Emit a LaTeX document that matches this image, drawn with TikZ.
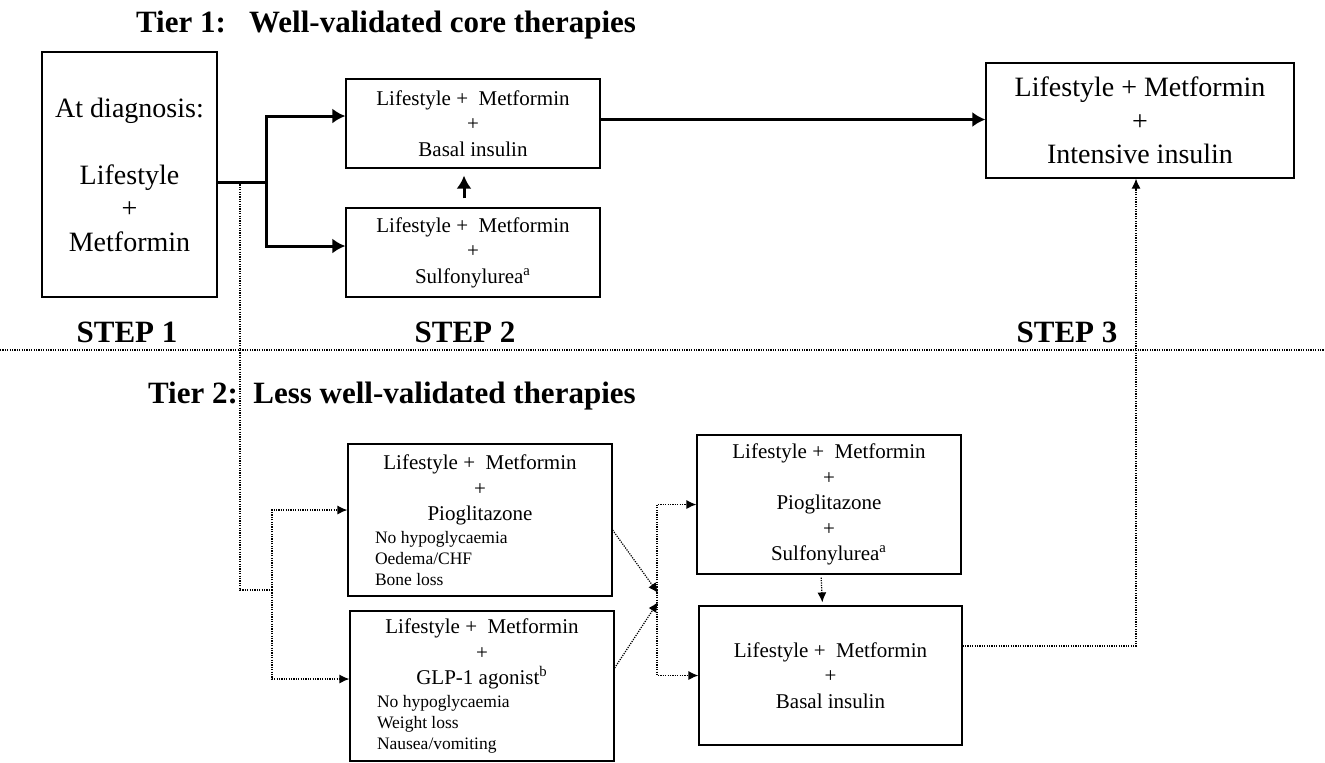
\documentclass[tikz,border=0pt]{standalone}
\usepackage{fontspec}
\setmainfont{Liberation Serif}
\usetikzlibrary{arrows.meta}

\newcommand{\sideitem}[1]{\makebox[105pt][l]{\fontsize{8.75}{10.5}\selectfont #1}}

\begin{document}
\begin{tikzpicture}[x=0.5pt,y=-0.5pt,
    box/.style={draw,line width=0.6pt,align=center,inner sep=2pt},
    bigtxt/.style={font=\fontsize{14}{16.75}\selectfont},
    midtxt/.style={font=\fontsize{10.5}{12.75}\selectfont},
    head/.style={font=\bfseries\fontsize{15.5}{18}\selectfont},
    thickarrow/.style={line width=1.5pt,-{Latex[length=6.5pt,width=7.5pt]}},
    dotline/.style={line width=0.6pt,dash pattern=on 0.6pt off 0.6pt},
    dotarrow/.style={dotline,-{Latex[length=5pt,width=4.5pt]}}]
    \useasboundingbox (0,0) rectangle (1325,762);

    % headings
    \node[head,anchor=base west] (tierone) at (129,32) {Tier 1:\ \ \ Well-validated core therapies};
    \node[head,anchor=base west] (tiertwo) at (141,403) {Tier 2:\ \ Less well-validated therapies};
    \node[head,anchor=base] (stepone) at (127,342) {STEP 1};
    \node[head,anchor=base] (steptwo) at (465,342) {STEP 2};
    \node[head,anchor=base] (stepthree) at (1067,342) {STEP 3};
    \draw[dotline] (0,350) -- (1325,350);

    % tier 1
    \node[box,bigtxt,minimum width=87.5pt,minimum height=122.5pt] (diag) at (129.5,174.5) {At diagnosis:\\[16.75pt]Lifestyle\\+\\Metformin};
    \node[box,midtxt,minimum width=127pt,minimum height=44.5pt] (basal) at (473,123.5) {Lifestyle +\ \ Metformin\\+\\Basal insulin};
    \node[box,midtxt,minimum width=127pt,minimum height=44.5pt] (sulf) at (473,252.5) {Lifestyle +\ \ Metformin\\+\\Sulfonylurea\textsuperscript{a}};
    \node[box,bigtxt,minimum width=154pt,minimum height=57.5pt] (intens) at (1140,120.5) {Lifestyle + Metformin\\+\\Intensive insulin};

    % tier 2
    \node[box,midtxt,minimum width=132pt,minimum height=76pt] (pio) at (480,520) {Lifestyle +\ \ Metformin\\+\\Pioglitazone\\[-1.5pt]\sideitem{No hypoglycaemia}\\[-2.25pt]\sideitem{Oedema/CHF}\\[-2.25pt]\sideitem{Bone loss}};
    \node[box,midtxt,minimum width=132pt,minimum height=75pt] (glp) at (482,686) {Lifestyle +\ \ Metformin\\+\\GLP-1 agonist\textsuperscript{b}\\[-1.5pt]\sideitem{No hypoglycaemia}\\[-2.25pt]\sideitem{Weight loss}\\[-2.25pt]\sideitem{Nausea/vomiting}};
    \node[box,midtxt,minimum width=132pt,minimum height=69.5pt] (piosu) at (829,504.5) {Lifestyle +\ \ Metformin\\+\\Pioglitazone\\+\\Sulfonylurea\textsuperscript{a}};
    \node[box,midtxt,minimum width=131.5pt,minimum height=69.5pt] (gbasal) at (830.5,675.5) {Lifestyle +\ \ Metformin\\+\\Basal insulin};

    % tier 1 arrows
    \coordinate (split) at (266,182);
    \coordinate (branch) at (240,182);
    \draw[line width=1.5pt] (diag.east |- split) -- (split);
    \draw[thickarrow] (split) |- ([yshift=3.75pt]basal.west);
    \draw[thickarrow] (split) |- ([yshift=3.25pt]sulf.west);
    \draw[thickarrow] ([yshift=2pt]basal.east) -- ([yshift=2pt]basal.east -| intens.west);
    \draw[thickarrow,shorten <=4.5pt,shorten >=3.5pt] ([xshift=-4.5pt]sulf.north) -- ([xshift=-4.5pt]basal.south);

    % tier 2 arrows
    \coordinate (fork) at (272,590);
    \coordinate (meetA) at (658,593);
    \coordinate (meetB) at (658,602);
    \coordinate (join) at (657,590);
    \draw[dotline] (branch) |- (fork);
    \draw[dotarrow] (fork) |- ([yshift=5pt]pio.west);
    \draw[dotarrow] (fork) |- ([yshift=3.5pt]glp.west);
    \draw[dotarrow] ([yshift=-5pt]pio.east) -- (meetA);
    \draw[dotarrow] ([yshift=9pt]glp.east) -- (meetB);
    \draw[dotarrow] (join) |- (piosu.west);
    \draw[dotarrow] (join) |- (gbasal.west);
    \draw[dotarrow,shorten <=1.5pt,shorten >=1.5pt] ([xshift=-4pt]piosu.south) -- ([xshift=-4pt]gbasal.north);
    \draw[dotarrow] ([yshift=14.75pt]gbasal.east) -| ([xshift=-2pt]intens.south);
\end{tikzpicture}
\end{document}
